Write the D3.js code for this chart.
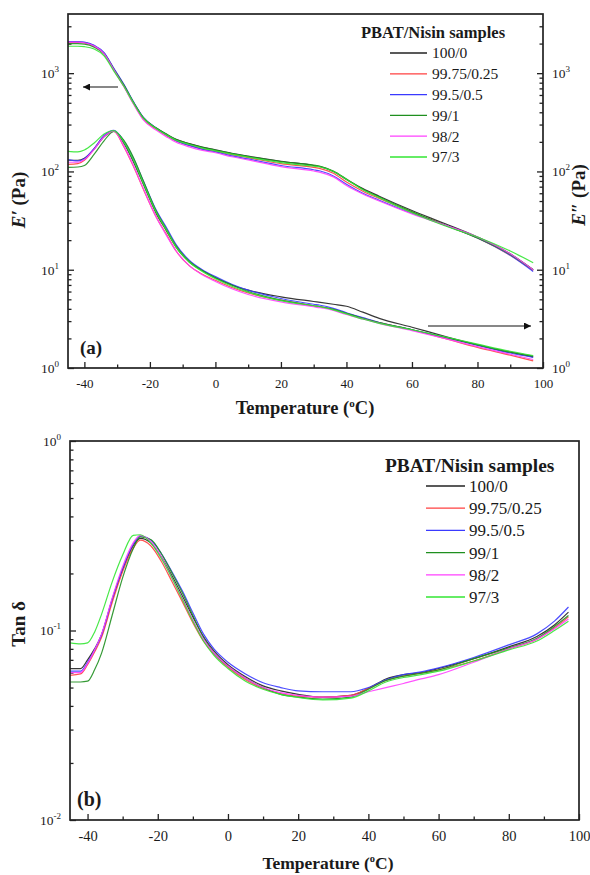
<!DOCTYPE html>
<html>
<head>
<meta charset="utf-8">
<script src="https://cdn.jsdelivr.net/npm/d3@7"></script>
<style>
  body { margin: 0; background: #fff; }
  text { font-family: "Liberation Serif", "Times New Roman", serif; fill: #1a1a1a; }
</style>
</head>
<body>
<script>
// DATA
const sampleNames = ["100/0", "99.75/0.25", "99.5/0.5", "99/1", "98/2", "97/3"];
const sampleColors = ["#222222", "#ff4040", "#3a3aff", "#1f8f1f", "#ff40ff", "#33e633"];

// temperatures for panel (a)
const tempA = [-45, -42, -40, -37, -34, -31, -28, -25, -22, -18, -15, -12, -8, -4, 0, 5, 10, 20, 30, 32, 36, 40, 45, 50, 60, 70, 80, 90, 97];

// E' storage modulus (Pa), one array per sample
const storage100 = [2080, 2075, 2050, 1900, 1600, 1100, 760, 500, 350, 275, 240, 212, 192, 177, 166, 153, 143, 127, 115, 112, 100, 83, 67, 56, 40, 29.5, 21.5, 14.5, 10];
const storage9975 = [2060, 2055, 2030, 1880, 1580, 1080, 740, 490, 340, 268, 232, 204, 184, 170, 160, 148, 138, 120, 110, 107, 96, 78, 63, 53, 38.5, 28.5, 21, 14, 9.8];
const storage995 = [2100, 2095, 2070, 1920, 1620, 1120, 775, 510, 355, 275, 236, 206, 184, 168, 158, 144, 134, 115, 104, 101, 90, 74, 60, 51, 37.5, 28.5, 21, 14, 9.6];
const storage99 = [2000, 1995, 1975, 1840, 1560, 1090, 760, 505, 352, 276, 240, 211, 191, 176, 165, 152, 142, 126, 116, 113, 101, 84, 66, 55, 39, 28.5, 21, 14.3, 10];
const storage98 = [2070, 2065, 2040, 1890, 1585, 1080, 735, 485, 335, 262, 226, 198, 178, 164, 155, 141, 131, 112, 101, 98, 88, 72, 59, 50, 37, 28.5, 21.5, 14.5, 10];
const storage97 = [1880, 1880, 1860, 1760, 1500, 1050, 740, 495, 348, 272, 236, 208, 188, 173, 162, 150, 140, 123, 113, 111, 100, 83, 65, 54, 38, 28, 21.5, 15.5, 11.8];

// E'' loss modulus (Pa)
const loss100 = [130, 130, 136, 170, 225, 258, 195, 125, 74, 37, 25, 17, 12, 9.8, 8.3, 7.0, 6.2, 5.3, 4.75, 4.65, 4.45, 4.25, 3.7, 3.2, 2.6, 2.1, 1.72, 1.45, 1.3];
const loss9975 = [118, 120, 130, 170, 228, 255, 180, 112, 66, 34, 23, 15.5, 11, 9.0, 7.8, 6.6, 5.8, 4.9, 4.3, 4.2, 3.95, 3.6, 3.2, 2.9, 2.45, 2.0, 1.62, 1.35, 1.18];
const loss995 = [132, 128, 135, 172, 232, 262, 205, 135, 80, 40, 27, 18, 12.5, 10, 8.5, 7.1, 6.2, 5.1, 4.45, 4.35, 4.05, 3.65, 3.25, 2.9, 2.45, 2.05, 1.7, 1.42, 1.28];
const loss99 = [110, 111, 115, 150, 205, 256, 208, 138, 80, 39, 26, 17.5, 12.2, 9.8, 8.3, 7.0, 6.0, 4.9, 4.3, 4.2, 3.95, 3.6, 3.2, 2.9, 2.45, 2.05, 1.72, 1.45, 1.32];
const loss98 = [124, 124, 132, 168, 226, 257, 182, 114, 67, 34, 22.5, 15.5, 11, 8.9, 7.6, 6.4, 5.6, 4.7, 4.2, 4.1, 3.85, 3.5, 3.15, 2.85, 2.4, 2.0, 1.65, 1.38, 1.22];
const loss97 = [160, 158, 165, 195, 240, 260, 200, 130, 76, 38, 25.5, 17, 12, 9.6, 8.1, 6.8, 5.9, 4.85, 4.3, 4.2, 3.9, 3.55, 3.15, 2.85, 2.45, 2.08, 1.75, 1.48, 1.34];

// temperatures for panel (b)
const tempB = [-45, -42, -40, -38, -36, -33, -30, -27, -25, -22, -19, -16, -13, -10, -7, -4, 0, 5, 10, 15, 20, 27, 35, 40, 45, 50, 55, 60, 70, 80, 88, 93, 97];

// tan delta
const tan100 = [0.063, 0.063, 0.070, 0.080, 0.095, 0.145, 0.21, 0.28, 0.306, 0.29, 0.245, 0.195, 0.152, 0.118, 0.093, 0.078, 0.066, 0.057, 0.051, 0.048, 0.046, 0.0445, 0.0455, 0.0495, 0.0555, 0.0585, 0.060, 0.063, 0.071, 0.082, 0.093, 0.107, 0.125];
const tan9975 = [0.058, 0.059, 0.066, 0.077, 0.092, 0.140, 0.205, 0.272, 0.300, 0.280, 0.232, 0.182, 0.142, 0.110, 0.088, 0.075, 0.064, 0.055, 0.0495, 0.0465, 0.045, 0.0445, 0.0455, 0.0495, 0.0545, 0.0575, 0.0595, 0.062, 0.069, 0.080, 0.090, 0.103, 0.118];
const tan995 = [0.061, 0.061, 0.068, 0.079, 0.095, 0.146, 0.212, 0.285, 0.315, 0.300, 0.255, 0.205, 0.162, 0.124, 0.096, 0.080, 0.068, 0.059, 0.053, 0.050, 0.048, 0.0475, 0.0475, 0.050, 0.055, 0.0585, 0.0605, 0.0635, 0.072, 0.084, 0.096, 0.112, 0.133];
const tan99 = [0.0535, 0.0535, 0.054, 0.062, 0.076, 0.120, 0.19, 0.27, 0.312, 0.302, 0.255, 0.202, 0.158, 0.120, 0.092, 0.076, 0.065, 0.056, 0.050, 0.046, 0.0445, 0.0435, 0.0445, 0.049, 0.0545, 0.0575, 0.0595, 0.062, 0.071, 0.081, 0.091, 0.105, 0.120];
const tan98 = [0.060, 0.060, 0.067, 0.079, 0.096, 0.148, 0.218, 0.29, 0.318, 0.295, 0.245, 0.19, 0.148, 0.114, 0.090, 0.076, 0.065, 0.056, 0.050, 0.047, 0.0455, 0.0445, 0.045, 0.0475, 0.050, 0.0525, 0.0555, 0.0585, 0.068, 0.080, 0.090, 0.102, 0.115];
const tan97 = [0.086, 0.085, 0.086, 0.098, 0.122, 0.18, 0.25, 0.318, 0.32, 0.29, 0.24, 0.19, 0.146, 0.112, 0.088, 0.074, 0.063, 0.054, 0.049, 0.046, 0.0443, 0.043, 0.044, 0.048, 0.0535, 0.0565, 0.0585, 0.061, 0.069, 0.079, 0.088, 0.100, 0.112];

const storageSeries = [storage100, storage9975, storage995, storage99, storage98, storage97];
const lossSeries = [loss100, loss9975, loss995, loss99, loss98, loss97];
const tanSeries = [tan100, tan9975, tan995, tan99, tan98, tan97];

const xMajor = [-40, -20, 0, 20, 40, 60, 80, 100];
const xMinor = [-30, -10, 10, 30, 50, 70, 90];

// SVG
const WIDTH = 590;
const HEIGHT = 875;
const svg = d3.select("body").append("svg").attr("width", WIDTH).attr("height", HEIGHT);

const defs = svg.append("defs");
defs.append("marker")
  .attr("id", "head")
  .attr("viewBox", "0 0 10 10")
  .attr("refX", 10).attr("refY", 5)
  .attr("markerWidth", 9).attr("markerHeight", 7)
  .attr("markerUnits", "userSpaceOnUse")
  .attr("orient", "auto")
  .append("path").attr("d", "M0,0 L10,5 L0,10 Z").attr("fill", "#111");

// superscript labels like 10^3
const powerLabel = (sel, anchor) => {
  sel.each(function(d) {
    const t = d3.select(this).text(null).attr("text-anchor", anchor);
    const e = Math.round(Math.log10(d));
    t.append("tspan").text("10");
    t.append("tspan").attr("dy", -6).attr("font-size", 9).text(e);
  });
};

const logMinor = (lo, hi) => {
  const out = [];
  for (let p = lo; p < hi; p++) {
    for (let k = 2; k <= 9; k++) out.push(k * Math.pow(10, p));
  }
  return out;
};

// PANEL DRAWER
const panelDrawer = cfg => {
  const g = svg.append("g");
  const x = d3.scaleLinear().domain([-45, 100]).range([cfg.left, cfg.right]);
  const y = d3.scaleLog().domain(cfg.yDomain).range([cfg.bottom, cfg.top]);

  // x axis
  g.append("g").attr("transform", `translate(0,${cfg.bottom})`)
    .call(d3.axisBottom(x).tickValues(xMajor).tickFormat(d => String(d))
      .tickSizeInner(-6).tickSizeOuter(0).tickPadding(11))
    .call(a => a.select(".domain").remove())
    .call(a => a.selectAll("text").attr("font-size", cfg.tickSize));
  g.append("g").attr("transform", `translate(0,${cfg.bottom})`)
    .call(d3.axisBottom(x).tickValues(xMinor).tickSizeInner(-3.5).tickSizeOuter(0).tickFormat(""))
    .call(a => a.select(".domain").remove());

  // left y axis
  const yMajor = cfg.yMajor;
  const yMinor = logMinor(cfg.pLo, cfg.pHi).filter(v => v < cfg.yDomain[1]);
  g.append("g").attr("transform", `translate(${cfg.left},0)`)
    .call(d3.axisLeft(y).tickValues(yMajor).tickSizeInner(-6).tickSizeOuter(0).tickPadding(9))
    .call(a => a.select(".domain").remove())
    .call(a => a.selectAll("text").attr("font-size", 13.5).call(powerLabel, "end"));
  g.append("g").attr("transform", `translate(${cfg.left},0)`)
    .call(d3.axisLeft(y).tickValues(yMinor).tickSizeInner(-3.5).tickSizeOuter(0).tickFormat(""))
    .call(a => a.select(".domain").remove());

  if (cfg.rightAxis) {
    g.append("g").attr("transform", `translate(${cfg.right},0)`)
      .call(d3.axisRight(y).tickValues(yMajor).tickSizeInner(-6).tickSizeOuter(0).tickPadding(9))
      .call(a => a.select(".domain").remove())
      .call(a => a.selectAll("text").attr("font-size", 13.5).call(powerLabel, "start"));
    g.append("g").attr("transform", `translate(${cfg.right},0)`)
      .call(d3.axisRight(y).tickValues(yMinor).tickSizeInner(-3.5).tickSizeOuter(0).tickFormat(""))
      .call(a => a.select(".domain").remove());
  }
  g.selectAll(".tick line").attr("stroke", "#222").attr("stroke-width", 1.3);
  g.selectAll(".tick text").attr("fill", "#1a1a1a");

  // lines
  const clip = "clip" + cfg.name;
  defs.append("clipPath").attr("id", clip).append("rect")
    .attr("x", cfg.left).attr("y", cfg.top)
    .attr("width", cfg.right - cfg.left).attr("height", cfg.bottom - cfg.top);
  const lineGen = temps => d3.line()
    .x((d, i) => x(temps[i]))
    .y(d => y(d))
    .curve(d3.curveMonotoneX);
  const lg = g.append("g").attr("clip-path", `url(#${clip})`);
  cfg.groups.forEach(grp => {
    lg.append("g").selectAll("path")
      .data(grp)
      .enter()
      .append("path")
      .attr("d", lineGen(cfg.temps))
      .attr("fill", "none")
      .attr("stroke", (d, i) => sampleColors[i])
      .attr("stroke-width", 1.2)
      .attr("stroke-opacity", 0.9);
  });

  // frame
  g.append("rect")
    .attr("x", cfg.left).attr("y", cfg.top)
    .attr("width", cfg.right - cfg.left).attr("height", cfg.bottom - cfg.top)
    .attr("fill", "none").attr("stroke", "#222").attr("stroke-width", 1.7);

  return { x, y, g };
};

// PANEL (a)
const pa = panelDrawer({
  name: "a", left: 68, right: 543, top: 14, bottom: 368,
  yDomain: [1, 4000], yMajor: [1, 10, 100, 1000], pLo: 0, pHi: 4,
  rightAxis: true, temps: tempA, groups: [storageSeries, lossSeries], tickSize: 13
});

// PANEL (b)
const pb = panelDrawer({
  name: "b", left: 70, right: 579, top: 441, bottom: 820,
  yDomain: [0.01, 1], yMajor: [0.01, 0.1, 1], pLo: -2, pHi: 0,
  rightAxis: false, temps: tempB, groups: [tanSeries], tickSize: 14.5
});

// arrows in panel (a)
svg.append("line").attr("x1", 118).attr("y1", 87).attr("x2", 83).attr("y2", 87)
  .attr("stroke", "#111").attr("stroke-width", 1.2).attr("marker-end", "url(#head)");
svg.append("line").attr("x1", 428).attr("y1", 326).attr("x2", 531).attr("y2", 326)
  .attr("stroke", "#111").attr("stroke-width", 1.2).attr("marker-end", "url(#head)");

// panel letters
svg.append("text").attr("x", 80).attr("y", 354).attr("font-size", 19).attr("font-weight", "bold").text("(a)");
svg.append("text").attr("x", 77).attr("y", 806).attr("font-size", 20).attr("font-weight", "bold").text("(b)");

// axis titles
const xTitle = (cx, cy, size) => {
  const t = svg.append("text").attr("x", cx).attr("y", cy).attr("text-anchor", "middle")
    .attr("font-size", size).attr("font-weight", "bold");
  t.append("tspan").text("Temperature (");
  t.append("tspan").attr("dy", -7).attr("font-size", size * 0.6).text("o");
  t.append("tspan").attr("dy", 7).text("C)");
};
xTitle(305, 414, 18.5);
xTitle(328, 869, 17.5);

const yTitle = (cx, cy, primes) => {
  const t = svg.append("text").attr("transform", `translate(${cx},${cy}) rotate(-90)`)
    .attr("text-anchor", "middle").attr("font-size", 19).attr("font-weight", "bold");
  t.append("tspan").attr("font-style", "italic").text("E" + primes);
  t.append("tspan").text(" (Pa)");
};
yTitle(25, 200, "\u2032");
yTitle(585, 195, "\u2033");

svg.append("text").attr("transform", "translate(25,624) rotate(-90)")
  .attr("text-anchor", "middle").attr("font-size", 19).attr("font-weight", "bold").text("Tan \u03b4");

// LEGENDS
const legendDrawer = (cfg) => {
  const lg = svg.append("g");
  lg.append("text").attr("x", cfg.titleX).attr("y", cfg.titleY).attr("dy", "0.35em")
    .attr("font-size", cfg.titleSize).attr("font-weight", "bold").text("PBAT/Nisin samples");
  const rows = lg.selectAll("g.row").data(sampleNames).enter().append("g")
    .attr("transform", (d, i) => `translate(0,${cfg.y0 + i * cfg.dy})`);
  rows.append("line").attr("x1", cfg.x1).attr("x2", cfg.x2).attr("y1", 0).attr("y2", 0)
    .attr("stroke", (d, i) => sampleColors[i]).attr("stroke-width", 1.3);
  rows.append("text").attr("x", cfg.tx).attr("y", 0).attr("dy", "0.35em")
    .attr("font-size", cfg.size).text(d => d);
};
legendDrawer({ titleX: 361, titleY: 32, titleSize: 16.5, x1: 390, x2: 427, tx: 432, y0: 53, dy: 20.8, size: 15.5 });
legendDrawer({ titleX: 385, titleY: 465, titleSize: 19.4, x1: 426, x2: 465, tx: 469, y0: 486, dy: 22.2, size: 17 });
</script>
</body>
</html>
